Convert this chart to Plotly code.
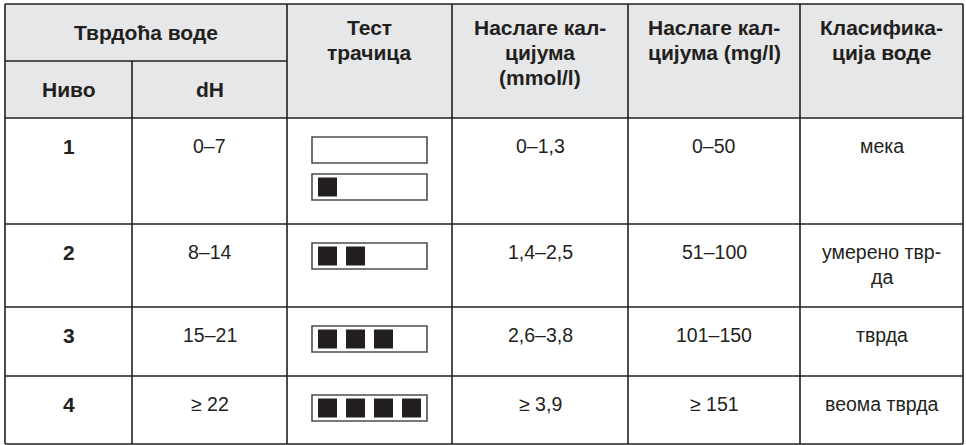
import plotly.graph_objects as go

# table content
levels = ["1", "2", "3", "4"]
dh_ranges = ["0–7", "8–14", "15–21", "≥ 22"]
strip_squares = [[0, 1], [2], [3], [4]]   # filled squares per test strip, per row
calcium_mmol = ["0–1,3", "1,4–2,5", "2,6–3,8", "≥ 3,9"]
calcium_mg = ["0–50", "51–100", "101–150", "≥ 151"]
classification = ["мека", "умерено твр-<br>да", "тврда", "веома тврда"]

group_header = "Тврдоћа воде"
sub_headers = ["Ниво", "dH"]
headers = ["Тест<br>трачица", "Наслаге кал-<br>цијума<br>(mmol/l)",
           "Наслаге кал-<br>цијума (mg/l)", "Класифика-<br>ција воде"]

# layout geometry (pixels)
W, H = 966, 445
col_edges = [5, 132, 287, 452, 628, 800, 963]
row_edges = [4, 61, 118, 224, 307, 376, 444]
INK = "#231f20"
HEAD_BG = "#e6e7e8"
FONT = "Liberation Sans, Arial, sans-serif"
FS_HEAD = 21
FS_BODY = 19.5
LINE_GAP = 25

fig = go.Figure()
shapes = []
annotations = []


def line(x0, y0, x1, y1, color=INK, width=1.6):
    shapes.append(dict(type="line", x0=x0, y0=y0, x1=x1, y1=y1, xref="x", yref="y",
                       line=dict(color=color, width=width)))


def text(x, y, s, bold=False):
    # one annotation per line so the line spacing matches the print
    for k, part in enumerate(s.split("<br>")):
        annotations.append(dict(x=x, y=y + k * LINE_GAP, xref="x", yref="y",
                                text=f"<b>{part}</b>" if bold else part,
                                showarrow=False, xanchor="center", yanchor="middle",
                                font=dict(family=FONT, size=FS_HEAD if bold else FS_BODY, color=INK)))


def mid(a, b):
    return (a + b) / 2


# header background
shapes.append(dict(type="rect", x0=col_edges[0], x1=col_edges[-1], y0=row_edges[0], y1=row_edges[2],
                   xref="x", yref="y", fillcolor=HEAD_BG, line=dict(width=0), layer="below"))

# grid lines
for y in [row_edges[0], row_edges[2], row_edges[3], row_edges[4], row_edges[5], row_edges[6]]:
    line(col_edges[0], y, col_edges[-1], y)
line(col_edges[0], row_edges[1], col_edges[2], row_edges[1])
for i, x in enumerate(col_edges):
    y_start = row_edges[1] if i == 1 else row_edges[0]
    line(x, y_start, x, row_edges[-1])

# header text
text(mid(col_edges[0], col_edges[2]), mid(row_edges[0], row_edges[1]), group_header, bold=True)
for i, s in enumerate(sub_headers):
    text(mid(col_edges[i], col_edges[i + 1]), mid(row_edges[1], row_edges[2]), s, bold=True)
for i, s in enumerate(headers):
    text(mid(col_edges[i + 2], col_edges[i + 3]), row_edges[0] + 23, s, bold=True)

# body text
columns = [levels, dh_ranges, None, calcium_mmol, calcium_mg, classification]
for r in range(len(levels)):
    top = row_edges[r + 2]
    for c, vals in enumerate(columns):
        if vals is None:
            continue
        text(mid(col_edges[c], col_edges[c + 1]), top + 28, vals[r], bold=(c == 0))

# test strips
box_w, box_h, sq, pitch = 115, 26, 19, 28
sq_x, sq_y = [], []
for r, strips in enumerate(strip_squares):
    top = row_edges[r + 2]
    for k, n in enumerate(strips):
        x0 = col_edges[2] + 25
        y0 = top + 19 + k * 37
        shapes.append(dict(type="rect", x0=x0, x1=x0 + box_w, y0=y0, y1=y0 + box_h, xref="x", yref="y",
                           fillcolor="white", line=dict(color="#4d4d4f", width=1.6), layer="below"))
        for j in range(n):
            sq_x.append(x0 + 6 + sq / 2 + j * pitch)
            sq_y.append(y0 + box_h / 2)

fig.add_trace(go.Scatter(x=sq_x, y=sq_y, mode="markers", hoverinfo="skip",
                         marker=dict(symbol="square", size=sq, color=INK, line=dict(width=0))))

fig.update_layout(
    width=W, height=H, margin=dict(l=0, r=0, t=0, b=0),
    paper_bgcolor="white", plot_bgcolor="white", showlegend=False,
    xaxis=dict(range=[0, W], visible=False, fixedrange=True),
    yaxis=dict(range=[H, 0], visible=False, fixedrange=True),
    shapes=shapes, annotations=annotations,
)
fig.write_html("out.html", config={"displayModeBar": False},
               post_script="document.body.style.margin='0';")
